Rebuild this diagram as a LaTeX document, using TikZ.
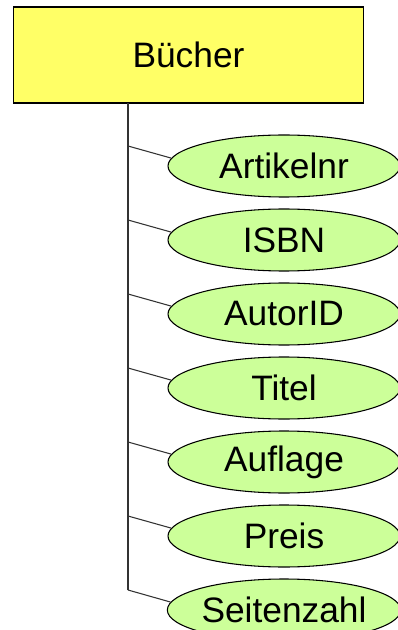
\documentclass[tikz,border=0pt]{standalone}
\usepackage{fontspec}
\setmainfont{Liberation Sans}
\usetikzlibrary{shapes.geometric}

\definecolor{boxyellow}{RGB}{255,255,102}
\definecolor{attrgreen}{RGB}{204,255,153}

\tikzset{
  entity/.style={draw, line width=0.8pt, fill=boxyellow, minimum width=263pt, minimum height=72pt, inner sep=0pt, font=\fontsize{26.5}{30}\selectfont},
  attrib/.style={ellipse, draw, line width=0.8pt, fill=attrgreen, minimum width=174pt, minimum height=46.5pt, inner sep=0pt, font=\fontsize{26.5}{30}\selectfont},
  branch/.style={draw, line width=0.8pt, black!80}
}

\begin{document}
\begin{tikzpicture}[x=0.75pt,y=0.75pt,yscale=-1,xscale=1]
\useasboundingbox (0,0) rectangle (398,630);

%Shape: Rectangle [entity]
\node [entity] (buecher) at (188.5,55) {Bücher};

%Shape: Ellipses [attributes]
\node [attrib] (artikelnr) at (284,166) {Artikelnr};
\node [attrib] (isbn) at (284,240) {ISBN};
\node [attrib] (autorid) at (284,314) {AutorID};
\node [attrib] (titel) at (284,388) {Titel};
\node [attrib] (auflage) at (284,462) {Auflage};
\node [attrib] (preis) at (284,536) {Preis};
\node [attrib] (seitenzahl) at (284,610) {Seitenzahl};

%Straight Lines [trunk]
\coordinate (trunktop) at (128,103);
\coordinate (trunkend) at (128,590);
\draw [branch] (trunktop) -- (trunkend);

%Straight Lines [branches]
\coordinate (b1) at (128,146);
\coordinate (b2) at (128,220);
\coordinate (b3) at (128,294);
\coordinate (b4) at (128,368);
\coordinate (b5) at (128,442);
\coordinate (b6) at (128,516);
\coordinate (b7) at (128,590);
\draw [branch] (b1) -- (artikelnr.176);
\draw [branch] (b2) -- (isbn.176);
\draw [branch] (b3) -- (autorid.176);
\draw [branch] (b4) -- (titel.176);
\draw [branch] (b5) -- (auflage.176);
\draw [branch] (b6) -- (preis.176);
\draw [branch] (b7) -- (seitenzahl.176);

\end{tikzpicture}
\end{document}
